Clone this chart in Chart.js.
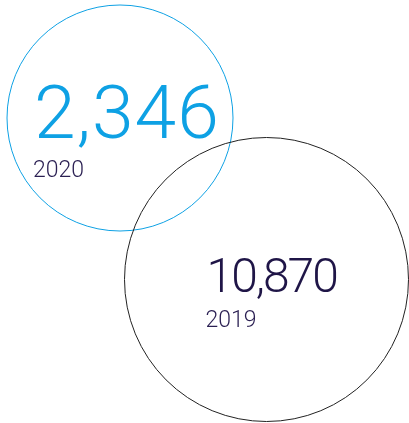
<!DOCTYPE html>
<html>
<head>
<meta charset="utf-8">
<script src="https://cdn.jsdelivr.net/npm/chart.js@4"></script>
<style>
  html, body { margin: 0; padding: 0; background: #ffffff; }
  #wrap { width: 409px; height: 423px; }
</style>
</head>
<body>
<div id="wrap"><canvas id="bubbles" width="409" height="423"></canvas></div>
<script>
var years = ['2020', '2019'];
var totals = [2346, 10870];

// layout of each circle on the page (pixels)
var spots = [
    { x: 120, y: 118, r: 113, color: '#0ea1e4', dx: -86, dy: 20, size: 75, spacing: '1px', yearDy: 39 },
    { x: 266.5, y: 279.5, r: 142, color: '#222222', dx: -60, dy: 12, size: 48, spacing: '-2px', yearDy: 35 }
];
var numberColors = ['#0ea1e4', '#1f1547'];
var yearColor = '#2a1f52';

// Plugin that writes the number and year inside each bubble
var bubbleText = {
    id: 'bubbleText',
    afterDatasetsDraw: function(chart) {
        var ctx = chart.ctx;
        var meta = chart.getDatasetMeta(0);
        meta.data.forEach(function(el, i) {
            var s = spots[i];
            ctx.save();
            ctx.textAlign = 'left';
            ctx.textBaseline = 'alphabetic';
            ctx.fillStyle = numberColors[i];
            ctx.font = '300 ' + s.size + 'px Roboto';
            ctx.letterSpacing = s.spacing;
            ctx.fillText(totals[i].toLocaleString('en-US'), el.x + s.dx, el.y + s.dy);
            ctx.letterSpacing = '0px';
            ctx.fillStyle = yearColor;
            ctx.font = '300 23px Roboto';
            ctx.fillText(years[i], el.x + s.dx - 1, el.y + s.dy + s.yearDy);
            ctx.restore();
        });
    }
};

var ctx = document.getElementById('bubbles').getContext('2d');
var bubbleChart = new Chart(ctx, {
    type: 'bubble',
    data: {
        labels: years,
        datasets: [{
            data: spots.map(function(s, i) {
                return { x: s.x, y: s.y, r: s.r, v: totals[i] };
            }),
            backgroundColor: 'rgba(0,0,0,0)',
            borderColor: spots.map(function(s) { return s.color; }),
            borderWidth: 1,
            hoverBorderWidth: 1,
            clip: false
        }]
    },
    options: {
        responsive: false,
        animation: false,
        events: [],
        layout: { padding: 0, autoPadding: false },
        plugins: {
            legend: { display: false },
            tooltip: { enabled: false }
        },
        scales: {
            x: { type: 'linear', min: 0, max: 409, display: false },
            y: { type: 'linear', min: 0, max: 423, reverse: true, display: false }
        }
    },
    plugins: [bubbleText]
});
</script>
</body>
</html>
